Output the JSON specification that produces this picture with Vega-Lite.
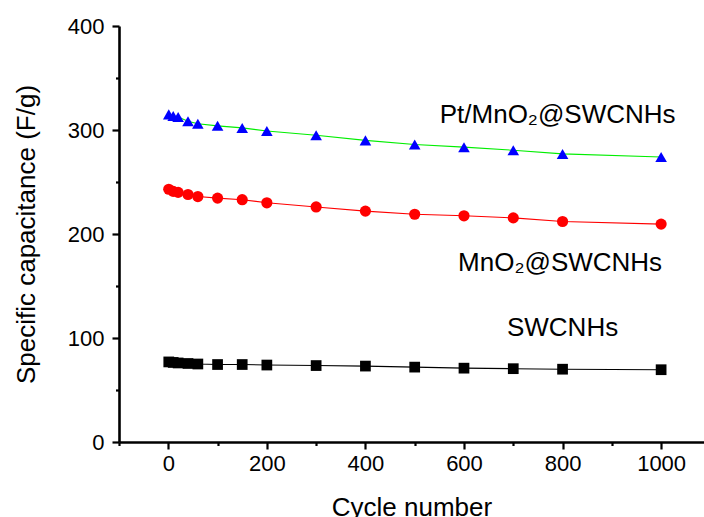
{
  "$schema": "https://vega.github.io/schema/vega-lite/v6.json",
  "width": 585,
  "height": 416,
  "autosize": "none",
  "padding": {"left": 119, "top": 26, "right": 0, "bottom": 75},
  "background": "white",
  "config": {
    "view": {"stroke": null},
    "font": "Liberation Sans",
    "axis": {
      "labelFont": "Liberation Sans",
      "titleFont": "Liberation Sans",
      "labelFontSize": 22,
      "titleFontSize": 26,
      "titleFontWeight": "normal",
      "labelColor": "black",
      "titleColor": "black",
      "domainColor": "black",
      "tickColor": "black",
      "domainWidth": 2.6,
      "tickWidth": 2.2,
      "grid": false
    }
  },
  "datasets": {
    "cap": [
      {"series": "SWCNHs", "cycle": 1, "cap": 77},
      {"series": "SWCNHs", "cycle": 10, "cap": 76.5},
      {"series": "SWCNHs", "cycle": 20, "cap": 76},
      {"series": "SWCNHs", "cycle": 40, "cap": 75.5},
      {"series": "SWCNHs", "cycle": 60, "cap": 75},
      {"series": "SWCNHs", "cycle": 100, "cap": 74.5},
      {"series": "SWCNHs", "cycle": 150, "cap": 74.5},
      {"series": "SWCNHs", "cycle": 200, "cap": 74},
      {"series": "SWCNHs", "cycle": 300, "cap": 73.5},
      {"series": "SWCNHs", "cycle": 400, "cap": 73},
      {"series": "SWCNHs", "cycle": 500, "cap": 72},
      {"series": "SWCNHs", "cycle": 600, "cap": 71},
      {"series": "SWCNHs", "cycle": 700, "cap": 70.5},
      {"series": "SWCNHs", "cycle": 800, "cap": 70},
      {"series": "SWCNHs", "cycle": 1000, "cap": 69.5},
      {"series": "MnO2@SWCNHs", "cycle": 1, "cap": 243},
      {"series": "MnO2@SWCNHs", "cycle": 10, "cap": 241},
      {"series": "MnO2@SWCNHs", "cycle": 20, "cap": 240},
      {"series": "MnO2@SWCNHs", "cycle": 40, "cap": 238},
      {"series": "MnO2@SWCNHs", "cycle": 60, "cap": 236},
      {"series": "MnO2@SWCNHs", "cycle": 100, "cap": 234.5},
      {"series": "MnO2@SWCNHs", "cycle": 150, "cap": 233},
      {"series": "MnO2@SWCNHs", "cycle": 200, "cap": 230},
      {"series": "MnO2@SWCNHs", "cycle": 300, "cap": 226},
      {"series": "MnO2@SWCNHs", "cycle": 400, "cap": 222},
      {"series": "MnO2@SWCNHs", "cycle": 500, "cap": 219},
      {"series": "MnO2@SWCNHs", "cycle": 600, "cap": 217.5},
      {"series": "MnO2@SWCNHs", "cycle": 700, "cap": 215.5},
      {"series": "MnO2@SWCNHs", "cycle": 800, "cap": 212},
      {"series": "MnO2@SWCNHs", "cycle": 1000, "cap": 209.5},
      {"series": "Pt/MnO2@SWCNHs", "cycle": 1, "cap": 315},
      {"series": "Pt/MnO2@SWCNHs", "cycle": 10, "cap": 313.5},
      {"series": "Pt/MnO2@SWCNHs", "cycle": 20, "cap": 312.5},
      {"series": "Pt/MnO2@SWCNHs", "cycle": 40, "cap": 308.5},
      {"series": "Pt/MnO2@SWCNHs", "cycle": 60, "cap": 306},
      {"series": "Pt/MnO2@SWCNHs", "cycle": 100, "cap": 304},
      {"series": "Pt/MnO2@SWCNHs", "cycle": 150, "cap": 302},
      {"series": "Pt/MnO2@SWCNHs", "cycle": 200, "cap": 299},
      {"series": "Pt/MnO2@SWCNHs", "cycle": 300, "cap": 295},
      {"series": "Pt/MnO2@SWCNHs", "cycle": 400, "cap": 290},
      {"series": "Pt/MnO2@SWCNHs", "cycle": 500, "cap": 286},
      {"series": "Pt/MnO2@SWCNHs", "cycle": 600, "cap": 283.5},
      {"series": "Pt/MnO2@SWCNHs", "cycle": 700, "cap": 280.5},
      {"series": "Pt/MnO2@SWCNHs", "cycle": 800, "cap": 277},
      {"series": "Pt/MnO2@SWCNHs", "cycle": 1000, "cap": 274}
    ],
    "labels": [
      {"text": "Pt/MnO₂@SWCNHs", "cycle": 790, "cap": 306.4},
      {"text": "MnO₂@SWCNHs", "cycle": 795, "cap": 164.4},
      {"text": "SWCNHs", "cycle": 800, "cap": 101.6}
    ]
  },
  "layer": [
    {
      "data": {"name": "cap"},
      "mark": {"type": "line", "strokeWidth": 1.1},
      "encoding": {
        "x": {
          "field": "cycle", "type": "quantitative",
          "scale": {"domain": [-100, 1087], "nice": false, "zero": false},
          "axis": {
            "title": "Cycle number",
            "values": [-100, 0, 100, 200, 300, 400, 500, 600, 700, 800, 900, 1000],
            "labelExpr": "datum.value % 200 === 0 ? datum.label : ''",
            "format": "d",
            "tickSize": {"condition": {"test": "datum.value % 200 === 0", "value": 7}, "value": 3.5},
            "labelPadding": 4,
            "titleY": 73,
            "titleBaseline": "alphabetic",
            "labelFlush": false,
            "labelOverlap": false
          }
        },
        "y": {
          "field": "cap", "type": "quantitative",
          "scale": {"domain": [0, 400], "nice": false},
          "axis": {
            "title": "Specific capacitance (F/g)",
            "values": [0, 50, 100, 150, 200, 250, 300, 350, 400],
            "labelExpr": "datum.value % 100 === 0 ? datum.label : ''",
            "tickSize": {"condition": {"test": "datum.value % 100 === 0", "value": 7}, "value": 3.5},
            "labelPadding": 8,
            "titlePadding": 28,
            "labelFlush": false,
            "labelOverlap": false
          }
        },
        "detail": {"field": "series"},
        "stroke": {
          "field": "series", "type": "nominal",
          "scale": {"domain": ["SWCNHs", "MnO2@SWCNHs", "Pt/MnO2@SWCNHs"], "range": ["#000000", "#ff0000", "#00ee00"]},
          "legend": null
        }
      }
    },
    {
      "data": {"name": "cap"},
      "mark": {"type": "point", "filled": true, "opacity": 1, "strokeWidth": 0},
      "encoding": {
        "x": {"field": "cycle", "type": "quantitative"},
        "y": {"field": "cap", "type": "quantitative"},
        "fill": {
          "field": "series", "type": "nominal",
          "scale": {"domain": ["SWCNHs", "MnO2@SWCNHs", "Pt/MnO2@SWCNHs"], "range": ["#000000", "#ff0000", "#0000ff"]},
          "legend": null
        },
        "shape": {
          "field": "series", "type": "nominal",
          "scale": {"domain": ["SWCNHs", "MnO2@SWCNHs", "Pt/MnO2@SWCNHs"], "range": ["square", "circle", "triangle-up"]},
          "legend": null
        },
        "size": {
          "field": "series", "type": "nominal",
          "scale": {"domain": ["SWCNHs", "MnO2@SWCNHs", "Pt/MnO2@SWCNHs"], "range": [115, 135, 230]},
          "legend": null
        }
      }
    },
    {
      "mark": {"type": "rule", "color": "black", "strokeWidth": 2.6},
      "encoding": {"y": {"datum": 400}}
    },
    {
      "data": {"name": "labels"},
      "mark": {"type": "text", "fontSize": 26, "font": "Liberation Sans", "color": "black", "align": "center", "baseline": "alphabetic"},
      "encoding": {
        "x": {"field": "cycle", "type": "quantitative"},
        "y": {"field": "cap", "type": "quantitative"},
        "text": {"field": "text"}
      }
    }
  ]
}
